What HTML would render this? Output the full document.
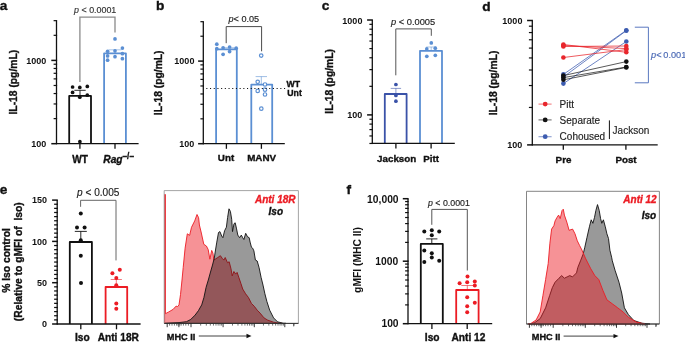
<!DOCTYPE html>
<html><head><meta charset="utf-8"><style>
html,body{margin:0;padding:0;background:#fff;width:685px;height:342px;overflow:hidden;}
svg{display:block;will-change:transform;font-family:"Liberation Sans",sans-serif;}
</style></head><body>
<svg width="685" height="342" viewBox="0 0 685 342" font-family="Liberation Sans, sans-serif">
<rect width="685" height="342" fill="white"/>
<text x="-0.30" y="10.00" font-size="13.7" font-weight="bold" text-anchor="start" fill="#111" stroke="#111" stroke-width="0.35" >a</text>
<text x="156.00" y="9.90" font-size="13.7" font-weight="bold" text-anchor="start" fill="#111" stroke="#111" stroke-width="0.35" >b</text>
<text x="321.70" y="10.00" font-size="13.7" font-weight="bold" text-anchor="start" fill="#111" stroke="#111" stroke-width="0.35" >c</text>
<text x="482.30" y="10.60" font-size="13.7" font-weight="bold" text-anchor="start" fill="#111" stroke="#111" stroke-width="0.35" >d</text>
<text x="-0.20" y="193.70" font-size="13.7" font-weight="bold" text-anchor="start" fill="#111" stroke="#111" stroke-width="0.35" >e</text>
<text x="346.60" y="193.60" font-size="13.7" font-weight="bold" text-anchor="start" fill="#111" stroke="#111" stroke-width="0.35" >f</text>
<line x1="56.50" y1="20.66" x2="56.50" y2="143.70" stroke="#111" stroke-width="1.3" />
<line x1="51.30" y1="143.70" x2="57.10" y2="143.70" stroke="#111" stroke-width="1.5" />
<line x1="51.30" y1="60.40" x2="57.10" y2="60.40" stroke="#111" stroke-width="1.5" />
<line x1="53.60" y1="118.62" x2="57.10" y2="118.62" stroke="#111" stroke-width="1.2" />
<line x1="53.60" y1="103.96" x2="57.10" y2="103.96" stroke="#111" stroke-width="1.2" />
<line x1="53.60" y1="93.55" x2="57.10" y2="93.55" stroke="#111" stroke-width="1.2" />
<line x1="53.60" y1="85.48" x2="57.10" y2="85.48" stroke="#111" stroke-width="1.2" />
<line x1="53.60" y1="78.88" x2="57.10" y2="78.88" stroke="#111" stroke-width="1.2" />
<line x1="53.60" y1="73.30" x2="57.10" y2="73.30" stroke="#111" stroke-width="1.2" />
<line x1="53.60" y1="68.47" x2="57.10" y2="68.47" stroke="#111" stroke-width="1.2" />
<line x1="53.60" y1="64.21" x2="57.10" y2="64.21" stroke="#111" stroke-width="1.2" />
<line x1="53.60" y1="35.32" x2="57.10" y2="35.32" stroke="#111" stroke-width="1.2" />
<line x1="53.60" y1="20.66" x2="57.10" y2="20.66" stroke="#111" stroke-width="1.2" />
<line x1="79.90" y1="143.70" x2="79.90" y2="148.70" stroke="#111" stroke-width="1.3" />
<line x1="115.00" y1="143.70" x2="115.00" y2="148.70" stroke="#111" stroke-width="1.3" />
<text x="46.30" y="63.60" font-size="9" font-weight="bold" text-anchor="end" fill="#111" >1000</text>
<text x="46.30" y="146.90" font-size="9" font-weight="bold" text-anchor="end" fill="#111" >100</text>
<!--fix-->
<text x="17.20" y="82.20" font-size="10.3" font-weight="bold" text-anchor="middle" fill="#111" stroke="#111" stroke-width="0.35" transform="rotate(-90 17.20 82.20)" >IL-18 (pg/mL)</text>
<path d="M69.20,143.70 L69.20,95.90 L91.00,95.90 L91.00,143.70" fill="white" stroke="#111" stroke-width="1.8" stroke-linejoin="round"/>
<path d="M104.10,143.70 L104.10,53.30 L125.90,53.30 L125.90,143.70" fill="white" stroke="#5b8fd3" stroke-width="1.8" stroke-linejoin="round"/>
<line x1="80.00" y1="90.30" x2="80.00" y2="95.90" stroke="#111" stroke-width="0.9" />
<line x1="74.30" y1="90.30" x2="85.70" y2="90.30" stroke="#111" stroke-width="0.9" />
<line x1="115.00" y1="49.80" x2="115.00" y2="53.30" stroke="#5b8fd3" stroke-width="0.8" stroke-opacity="0.65"/>
<line x1="108.60" y1="49.80" x2="121.40" y2="49.80" stroke="#5b8fd3" stroke-width="0.8" stroke-opacity="0.65"/>
<circle cx="72.60" cy="87.00" r="1.85" fill="#111"/>
<circle cx="79.80" cy="87.40" r="1.85" fill="#111"/>
<circle cx="87.30" cy="86.40" r="1.85" fill="#111"/>
<circle cx="72.60" cy="92.40" r="1.85" fill="#111"/>
<circle cx="79.80" cy="97.20" r="1.85" fill="#111"/>
<circle cx="87.30" cy="95.20" r="1.85" fill="#111"/>
<circle cx="79.90" cy="141.70" r="1.85" fill="#111"/>
<circle cx="115.00" cy="38.90" r="1.85" fill="#5b8fd3"/>
<circle cx="122.40" cy="48.10" r="1.85" fill="#5b8fd3"/>
<circle cx="107.60" cy="51.30" r="1.85" fill="#5b8fd3"/>
<circle cx="115.00" cy="50.80" r="1.85" fill="#5b8fd3"/>
<circle cx="122.40" cy="53.70" r="1.85" fill="#5b8fd3"/>
<circle cx="107.60" cy="55.90" r="1.85" fill="#5b8fd3"/>
<circle cx="115.00" cy="56.70" r="1.85" fill="#5b8fd3"/>
<circle cx="107.60" cy="60.20" r="1.85" fill="#5b8fd3"/>
<circle cx="122.40" cy="58.70" r="1.85" fill="#5b8fd3"/>
<polyline points="79.90,82.00 79.90,17.10 115.00,17.10 115.00,32.40" stroke="#8a8a8a" stroke-width="1.3" fill="none" stroke-linejoin="miter" />
<text x="74.10" y="13.00" font-size="8.9" font-weight="normal" text-anchor="start" fill="#333" stroke="#333" stroke-width="0.15" ><tspan font-style="italic">p</tspan> &lt; 0.0001</text>
<text x="80.20" y="163.00" font-size="10.1" font-weight="bold" text-anchor="middle" fill="#111" stroke="#111" stroke-width="0.35" >WT</text>
<text x="103.30" y="163.10" font-size="10.2" font-weight="bold" text-anchor="start" fill="#111" stroke="#111" stroke-width="0.35" ><tspan font-style="italic">Rag</tspan><tspan font-size="8.2" dy="-4.4">–/–</tspan></text>
<line x1="203.30" y1="21.69" x2="203.30" y2="143.70" stroke="#111" stroke-width="1.3" />
<line x1="198.10" y1="143.70" x2="203.90" y2="143.70" stroke="#111" stroke-width="1.5" />
<line x1="198.10" y1="61.10" x2="203.90" y2="61.10" stroke="#111" stroke-width="1.5" />
<line x1="200.40" y1="118.83" x2="203.90" y2="118.83" stroke="#111" stroke-width="1.2" />
<line x1="200.40" y1="104.29" x2="203.90" y2="104.29" stroke="#111" stroke-width="1.2" />
<line x1="200.40" y1="93.97" x2="203.90" y2="93.97" stroke="#111" stroke-width="1.2" />
<line x1="200.40" y1="85.97" x2="203.90" y2="85.97" stroke="#111" stroke-width="1.2" />
<line x1="200.40" y1="79.42" x2="203.90" y2="79.42" stroke="#111" stroke-width="1.2" />
<line x1="200.40" y1="73.89" x2="203.90" y2="73.89" stroke="#111" stroke-width="1.2" />
<line x1="200.40" y1="69.10" x2="203.90" y2="69.10" stroke="#111" stroke-width="1.2" />
<line x1="200.40" y1="64.88" x2="203.90" y2="64.88" stroke="#111" stroke-width="1.2" />
<line x1="200.40" y1="36.23" x2="203.90" y2="36.23" stroke="#111" stroke-width="1.2" />
<line x1="200.40" y1="21.69" x2="203.90" y2="21.69" stroke="#111" stroke-width="1.2" />
<line x1="226.40" y1="143.70" x2="226.40" y2="148.80" stroke="#111" stroke-width="1.3" />
<line x1="261.40" y1="143.70" x2="261.40" y2="148.80" stroke="#111" stroke-width="1.3" />
<text x="194.40" y="64.40" font-size="9" font-weight="bold" text-anchor="end" fill="#111" >1000</text>
<text x="194.40" y="147.20" font-size="9" font-weight="bold" text-anchor="end" fill="#111" >100</text>
<text x="162.20" y="82.80" font-size="10.3" font-weight="bold" text-anchor="middle" fill="#111" stroke="#111" stroke-width="0.35" transform="rotate(-90 162.20 82.80)" >IL-18 (pg/mL)</text>
<path d="M216.10,143.70 L216.10,49.30 L236.80,49.30 L236.80,143.70" fill="white" stroke="#5b8fd3" stroke-width="1.8" stroke-linejoin="round"/>
<path d="M251.30,143.70 L251.30,84.60 L272.20,84.60 L272.20,143.70" fill="white" stroke="#5b8fd3" stroke-width="1.8" stroke-linejoin="round"/>
<line x1="222.50" y1="47.80" x2="222.50" y2="49.30" stroke="#5b8fd3" stroke-width="0.6" stroke-opacity="0.65"/>
<line x1="222.40" y1="47.80" x2="222.60" y2="47.80" stroke="#5b8fd3" stroke-width="0.6" stroke-opacity="0.65"/>
<line x1="222.50" y1="47.80" x2="236.50" y2="47.80" stroke="#5b8fd3" stroke-width="0.6" />
<line x1="261.30" y1="76.60" x2="261.30" y2="84.60" stroke="#5b8fd3" stroke-width="0.9" stroke-opacity="0.65"/>
<line x1="255.60" y1="76.60" x2="267.00" y2="76.60" stroke="#5b8fd3" stroke-width="0.9" stroke-opacity="0.65"/>
<circle cx="216.80" cy="44.20" r="1.85" fill="#5b8fd3"/>
<circle cx="223.10" cy="47.80" r="1.85" fill="#5b8fd3"/>
<circle cx="229.60" cy="47.00" r="1.85" fill="#5b8fd3"/>
<circle cx="229.60" cy="51.60" r="1.85" fill="#5b8fd3"/>
<circle cx="223.10" cy="54.30" r="1.85" fill="#5b8fd3"/>
<circle cx="236.20" cy="48.20" r="1.85" fill="#5b8fd3"/>
<circle cx="216.80" cy="48.70" r="1.85" fill="#5b8fd3"/>
<circle cx="261.20" cy="55.60" r="1.75" fill="white" stroke="#5b8fd3" stroke-width="1.2"/>
<circle cx="257.70" cy="81.80" r="1.75" fill="white" stroke="#5b8fd3" stroke-width="1.2"/>
<circle cx="265.00" cy="84.50" r="1.75" fill="white" stroke="#5b8fd3" stroke-width="1.2"/>
<circle cx="257.70" cy="90.90" r="1.75" fill="white" stroke="#5b8fd3" stroke-width="1.2"/>
<circle cx="265.00" cy="89.70" r="1.75" fill="white" stroke="#5b8fd3" stroke-width="1.2"/>
<circle cx="265.00" cy="94.50" r="1.75" fill="white" stroke="#5b8fd3" stroke-width="1.2"/>
<circle cx="261.30" cy="108.70" r="1.75" fill="white" stroke="#5b8fd3" stroke-width="1.2"/>
<line x1="206.30" y1="88.50" x2="286.00" y2="88.50" stroke="#111" stroke-width="1.0" stroke-dasharray="1.1,2.6"/>
<polyline points="226.20,43.20 226.20,26.60 261.60,26.60 261.60,51.30" stroke="#4a4a4a" stroke-width="1.0" fill="none" stroke-linejoin="miter" />
<text x="228.50" y="21.70" font-size="9.1" font-weight="normal" text-anchor="start" fill="#222" stroke="#222" stroke-width="0.15" ><tspan font-style="italic">p</tspan>&lt; 0.05</text>
<text x="286.50" y="86.60" font-size="8.7" font-weight="bold" text-anchor="start" fill="#111" stroke="#111" stroke-width="0.35" >WT</text>
<text x="287.30" y="96.10" font-size="8.7" font-weight="bold" text-anchor="start" fill="#111" stroke="#111" stroke-width="0.35" >Unt</text>
<text x="226.00" y="161.30" font-size="9.8" font-weight="bold" text-anchor="middle" fill="#111" stroke="#111" stroke-width="0.35" >Unt</text>
<text x="261.60" y="161.30" font-size="9.8" font-weight="bold" text-anchor="middle" fill="#111" stroke="#111" stroke-width="0.35" >MANV</text>
<line x1="372.30" y1="20.00" x2="372.30" y2="143.47" stroke="#111" stroke-width="1.3" />
<line x1="367.10" y1="114.90" x2="372.90" y2="114.90" stroke="#111" stroke-width="1.5" />
<line x1="367.10" y1="20.00" x2="372.90" y2="20.00" stroke="#111" stroke-width="1.5" />
<line x1="369.40" y1="143.47" x2="372.90" y2="143.47" stroke="#111" stroke-width="1.2" />
<line x1="369.40" y1="135.95" x2="372.90" y2="135.95" stroke="#111" stroke-width="1.2" />
<line x1="369.40" y1="129.60" x2="372.90" y2="129.60" stroke="#111" stroke-width="1.2" />
<line x1="369.40" y1="124.10" x2="372.90" y2="124.10" stroke="#111" stroke-width="1.2" />
<line x1="369.40" y1="119.24" x2="372.90" y2="119.24" stroke="#111" stroke-width="1.2" />
<line x1="369.40" y1="86.33" x2="372.90" y2="86.33" stroke="#111" stroke-width="1.2" />
<line x1="369.40" y1="69.62" x2="372.90" y2="69.62" stroke="#111" stroke-width="1.2" />
<line x1="369.40" y1="57.76" x2="372.90" y2="57.76" stroke="#111" stroke-width="1.2" />
<line x1="369.40" y1="48.57" x2="372.90" y2="48.57" stroke="#111" stroke-width="1.2" />
<line x1="369.40" y1="41.05" x2="372.90" y2="41.05" stroke="#111" stroke-width="1.2" />
<line x1="369.40" y1="34.70" x2="372.90" y2="34.70" stroke="#111" stroke-width="1.2" />
<line x1="369.40" y1="29.20" x2="372.90" y2="29.20" stroke="#111" stroke-width="1.2" />
<line x1="369.40" y1="24.34" x2="372.90" y2="24.34" stroke="#111" stroke-width="1.2" />
<line x1="395.90" y1="143.30" x2="395.90" y2="148.50" stroke="#111" stroke-width="1.3" />
<line x1="431.10" y1="143.30" x2="431.10" y2="148.50" stroke="#111" stroke-width="1.3" />
<text x="362.40" y="23.50" font-size="9" font-weight="bold" text-anchor="end" fill="#111" >1000</text>
<text x="362.40" y="118.10" font-size="9" font-weight="bold" text-anchor="end" fill="#111" >100</text>
<text x="332.60" y="81.40" font-size="10.3" font-weight="bold" text-anchor="middle" fill="#111" stroke="#111" stroke-width="0.35" transform="rotate(-90 332.60 81.40)" >IL-18 (pg/mL)</text>
<path d="M384.80,143.30 L384.80,94.00 L406.60,94.00 L406.60,143.30" fill="white" stroke="#3a52a8" stroke-width="1.8" stroke-linejoin="round"/>
<path d="M420.00,143.30 L420.00,50.80 L442.00,50.80 L442.00,143.30" fill="white" stroke="#5b8fd3" stroke-width="1.8" stroke-linejoin="round"/>
<line x1="395.90" y1="88.40" x2="395.90" y2="94.00" stroke="#3a52a8" stroke-width="0.9" stroke-opacity="0.65"/>
<line x1="390.70" y1="88.40" x2="401.10" y2="88.40" stroke="#3a52a8" stroke-width="0.9" stroke-opacity="0.65"/>
<line x1="431.20" y1="47.00" x2="431.20" y2="50.80" stroke="#5b8fd3" stroke-width="0.8" stroke-opacity="0.65"/>
<line x1="426.20" y1="47.00" x2="436.20" y2="47.00" stroke="#5b8fd3" stroke-width="0.8" stroke-opacity="0.65"/>
<circle cx="395.90" cy="84.50" r="1.85" fill="#3a52a8"/>
<circle cx="395.90" cy="95.40" r="1.85" fill="#3a52a8"/>
<circle cx="395.90" cy="101.20" r="1.85" fill="#3a52a8"/>
<circle cx="431.30" cy="42.90" r="1.85" fill="#5b8fd3"/>
<circle cx="426.80" cy="48.90" r="1.85" fill="#5b8fd3"/>
<circle cx="435.30" cy="48.20" r="1.85" fill="#5b8fd3"/>
<circle cx="426.80" cy="56.30" r="1.85" fill="#5b8fd3"/>
<circle cx="435.30" cy="55.30" r="1.85" fill="#5b8fd3"/>
<polyline points="395.80,75.30 395.80,28.90 431.30,28.90 431.30,35.80" stroke="#555" stroke-width="1.0" fill="none" stroke-linejoin="miter" />
<text x="391.00" y="24.60" font-size="9.3" font-weight="normal" text-anchor="start" fill="#222" stroke="#222" stroke-width="0.15" ><tspan font-style="italic">p</tspan> &lt; 0.0005</text>
<text x="396.70" y="162.00" font-size="9.8" font-weight="bold" text-anchor="middle" fill="#111" stroke="#111" stroke-width="0.35" >Jackson</text>
<text x="431.10" y="162.00" font-size="9.8" font-weight="bold" text-anchor="middle" fill="#111" stroke="#111" stroke-width="0.35" >Pitt</text>
<line x1="532.30" y1="20.50" x2="532.30" y2="144.90" stroke="#111" stroke-width="1.3" />
<line x1="527.10" y1="144.90" x2="532.90" y2="144.90" stroke="#111" stroke-width="1.5" />
<line x1="527.10" y1="20.50" x2="532.90" y2="20.50" stroke="#111" stroke-width="1.5" />
<line x1="528.90" y1="107.45" x2="532.90" y2="107.45" stroke="#111" stroke-width="1.2" />
<line x1="528.90" y1="85.55" x2="532.90" y2="85.55" stroke="#111" stroke-width="1.2" />
<line x1="528.90" y1="70.00" x2="532.90" y2="70.00" stroke="#111" stroke-width="1.2" />
<line x1="528.90" y1="57.95" x2="532.90" y2="57.95" stroke="#111" stroke-width="1.2" />
<line x1="528.90" y1="48.10" x2="532.90" y2="48.10" stroke="#111" stroke-width="1.2" />
<line x1="528.90" y1="39.77" x2="532.90" y2="39.77" stroke="#111" stroke-width="1.2" />
<line x1="528.90" y1="32.56" x2="532.90" y2="32.56" stroke="#111" stroke-width="1.2" />
<line x1="528.90" y1="26.19" x2="532.90" y2="26.19" stroke="#111" stroke-width="1.2" />
<line x1="563.30" y1="144.90" x2="563.30" y2="149.80" stroke="#111" stroke-width="1.3" />
<line x1="625.90" y1="144.90" x2="625.90" y2="149.80" stroke="#111" stroke-width="1.3" />
<text x="522.40" y="24.40" font-size="9" font-weight="bold" text-anchor="end" fill="#111" >1000</text>
<text x="522.40" y="147.80" font-size="9" font-weight="bold" text-anchor="end" fill="#111" >100</text>
<text x="496.50" y="83.00" font-size="10.3" font-weight="bold" text-anchor="middle" fill="#111" stroke="#111" stroke-width="0.35" transform="rotate(-90 496.50 83.00)" >IL-18 (pg/mL)</text>
<line x1="563.40" y1="74.40" x2="626.30" y2="30.30" stroke="#3d5cb0" stroke-width="0.75" />
<line x1="563.40" y1="77.00" x2="626.30" y2="30.70" stroke="#3d5cb0" stroke-width="0.75" />
<line x1="563.40" y1="83.60" x2="626.30" y2="41.50" stroke="#3d5cb0" stroke-width="0.75" />
<line x1="563.40" y1="75.60" x2="626.30" y2="61.60" stroke="#111" stroke-width="0.7" />
<line x1="563.40" y1="77.60" x2="626.30" y2="67.00" stroke="#111" stroke-width="0.7" />
<line x1="563.40" y1="79.80" x2="626.30" y2="67.40" stroke="#111" stroke-width="0.7" />
<line x1="563.40" y1="44.50" x2="626.30" y2="52.30" stroke="#e8262c" stroke-width="0.75" />
<line x1="563.40" y1="46.50" x2="626.30" y2="46.00" stroke="#e8262c" stroke-width="0.75" />
<line x1="563.40" y1="45.50" x2="626.30" y2="48.60" stroke="#e8262c" stroke-width="0.75" />
<line x1="563.40" y1="57.50" x2="626.30" y2="49.60" stroke="#e8262c" stroke-width="0.75" />
<circle cx="563.40" cy="74.40" r="2.30" fill="#3d5cb0"/>
<circle cx="626.30" cy="30.30" r="2.30" fill="#3d5cb0"/>
<circle cx="563.40" cy="77.00" r="2.30" fill="#3d5cb0"/>
<circle cx="626.30" cy="30.70" r="2.30" fill="#3d5cb0"/>
<circle cx="563.40" cy="83.60" r="2.30" fill="#3d5cb0"/>
<circle cx="626.30" cy="41.50" r="2.30" fill="#3d5cb0"/>
<circle cx="563.40" cy="75.60" r="2.30" fill="#111"/>
<circle cx="626.30" cy="61.60" r="2.30" fill="#111"/>
<circle cx="563.40" cy="77.60" r="2.30" fill="#111"/>
<circle cx="626.30" cy="67.00" r="2.30" fill="#111"/>
<circle cx="563.40" cy="79.80" r="2.30" fill="#111"/>
<circle cx="626.30" cy="67.40" r="2.30" fill="#111"/>
<circle cx="563.40" cy="44.50" r="2.30" fill="#e8262c"/>
<circle cx="626.30" cy="52.30" r="2.30" fill="#e8262c"/>
<circle cx="563.40" cy="46.50" r="2.30" fill="#e8262c"/>
<circle cx="626.30" cy="46.00" r="2.30" fill="#e8262c"/>
<circle cx="563.40" cy="45.50" r="2.30" fill="#e8262c"/>
<circle cx="626.30" cy="48.60" r="2.30" fill="#e8262c"/>
<circle cx="563.40" cy="57.50" r="2.30" fill="#e8262c"/>
<circle cx="626.30" cy="49.60" r="2.30" fill="#e8262c"/>
<polyline points="634.80,27.20 648.40,27.20 648.40,82.80 634.80,82.80" stroke="#5a78c0" stroke-width="1.0" fill="none" stroke-linejoin="miter" />
<text x="651.00" y="57.70" font-size="9.2" font-weight="normal" text-anchor="start" fill="#4a69b5" stroke="#4a69b5" stroke-width="0.15" ><tspan font-style="italic">p</tspan>&lt;&#8201;0.001</text>
<line x1="538.50" y1="104.10" x2="551.60" y2="104.10" stroke="#e8262c" stroke-width="1.1" stroke-opacity="0.6"/>
<circle cx="545.20" cy="104.10" r="2.40" fill="#e8262c"/>
<text x="559.60" y="107.70" font-size="10" font-weight="normal" text-anchor="start" fill="#222" stroke="#222" stroke-width="0.15" >Pitt</text>
<line x1="538.50" y1="119.90" x2="551.60" y2="119.90" stroke="#111" stroke-width="1.1" stroke-opacity="0.6"/>
<circle cx="545.20" cy="119.90" r="2.40" fill="#111"/>
<text x="559.60" y="123.50" font-size="10" font-weight="normal" text-anchor="start" fill="#222" stroke="#222" stroke-width="0.15" >Separate</text>
<line x1="538.50" y1="136.70" x2="551.60" y2="136.70" stroke="#3d5cb0" stroke-width="1.1" stroke-opacity="0.6"/>
<circle cx="545.20" cy="136.70" r="2.40" fill="#3d5cb0"/>
<text x="559.60" y="140.30" font-size="10" font-weight="normal" text-anchor="start" fill="#222" stroke="#222" stroke-width="0.15" >Cohoused</text>
<line x1="609.40" y1="120.40" x2="609.40" y2="139.10" stroke="#111" stroke-width="1.0" />
<text x="612.60" y="133.50" font-size="10" font-weight="normal" text-anchor="start" fill="#222" stroke="#222" stroke-width="0.15" >Jackson</text>
<text x="563.50" y="162.80" font-size="9.8" font-weight="bold" text-anchor="middle" fill="#111" stroke="#111" stroke-width="0.35" >Pre</text>
<text x="626.00" y="162.80" font-size="9.8" font-weight="bold" text-anchor="middle" fill="#111" stroke="#111" stroke-width="0.35" >Post</text>
<line x1="57.20" y1="200.10" x2="57.20" y2="324.00" stroke="#111" stroke-width="1.3" />
<line x1="52.10" y1="324.00" x2="57.80" y2="324.00" stroke="#111" stroke-width="1.5" />
<line x1="54.10" y1="319.87" x2="57.80" y2="319.87" stroke="#111" stroke-width="1.25" />
<line x1="54.10" y1="315.74" x2="57.80" y2="315.74" stroke="#111" stroke-width="1.25" />
<line x1="54.10" y1="311.61" x2="57.80" y2="311.61" stroke="#111" stroke-width="1.25" />
<line x1="54.10" y1="307.48" x2="57.80" y2="307.48" stroke="#111" stroke-width="1.25" />
<line x1="54.10" y1="303.35" x2="57.80" y2="303.35" stroke="#111" stroke-width="1.25" />
<line x1="54.10" y1="299.22" x2="57.80" y2="299.22" stroke="#111" stroke-width="1.25" />
<line x1="54.10" y1="295.09" x2="57.80" y2="295.09" stroke="#111" stroke-width="1.25" />
<line x1="54.10" y1="290.96" x2="57.80" y2="290.96" stroke="#111" stroke-width="1.25" />
<line x1="54.10" y1="286.83" x2="57.80" y2="286.83" stroke="#111" stroke-width="1.25" />
<line x1="52.10" y1="282.70" x2="57.80" y2="282.70" stroke="#111" stroke-width="1.5" />
<line x1="54.10" y1="278.57" x2="57.80" y2="278.57" stroke="#111" stroke-width="1.25" />
<line x1="54.10" y1="274.44" x2="57.80" y2="274.44" stroke="#111" stroke-width="1.25" />
<line x1="54.10" y1="270.31" x2="57.80" y2="270.31" stroke="#111" stroke-width="1.25" />
<line x1="54.10" y1="266.18" x2="57.80" y2="266.18" stroke="#111" stroke-width="1.25" />
<line x1="54.10" y1="262.05" x2="57.80" y2="262.05" stroke="#111" stroke-width="1.25" />
<line x1="54.10" y1="257.92" x2="57.80" y2="257.92" stroke="#111" stroke-width="1.25" />
<line x1="54.10" y1="253.79" x2="57.80" y2="253.79" stroke="#111" stroke-width="1.25" />
<line x1="54.10" y1="249.66" x2="57.80" y2="249.66" stroke="#111" stroke-width="1.25" />
<line x1="54.10" y1="245.53" x2="57.80" y2="245.53" stroke="#111" stroke-width="1.25" />
<line x1="52.10" y1="241.40" x2="57.80" y2="241.40" stroke="#111" stroke-width="1.5" />
<line x1="54.10" y1="237.27" x2="57.80" y2="237.27" stroke="#111" stroke-width="1.25" />
<line x1="54.10" y1="233.14" x2="57.80" y2="233.14" stroke="#111" stroke-width="1.25" />
<line x1="54.10" y1="229.01" x2="57.80" y2="229.01" stroke="#111" stroke-width="1.25" />
<line x1="54.10" y1="224.88" x2="57.80" y2="224.88" stroke="#111" stroke-width="1.25" />
<line x1="54.10" y1="220.75" x2="57.80" y2="220.75" stroke="#111" stroke-width="1.25" />
<line x1="54.10" y1="216.62" x2="57.80" y2="216.62" stroke="#111" stroke-width="1.25" />
<line x1="54.10" y1="212.49" x2="57.80" y2="212.49" stroke="#111" stroke-width="1.25" />
<line x1="54.10" y1="208.36" x2="57.80" y2="208.36" stroke="#111" stroke-width="1.25" />
<line x1="54.10" y1="204.23" x2="57.80" y2="204.23" stroke="#111" stroke-width="1.25" />
<line x1="52.10" y1="200.10" x2="57.80" y2="200.10" stroke="#111" stroke-width="1.5" />
<line x1="80.80" y1="324.00" x2="80.80" y2="329.30" stroke="#111" stroke-width="1.3" />
<line x1="116.50" y1="324.00" x2="116.50" y2="329.30" stroke="#111" stroke-width="1.3" />
<text x="47.00" y="203.40" font-size="9" font-weight="bold" text-anchor="end" fill="#111" >150</text>
<text x="47.00" y="244.70" font-size="9" font-weight="bold" text-anchor="end" fill="#111" >100</text>
<text x="47.00" y="286.00" font-size="9" font-weight="bold" text-anchor="end" fill="#111" >50</text>
<text x="47.00" y="327.30" font-size="9" font-weight="bold" text-anchor="end" fill="#111" >0</text>
<text x="10.20" y="260.50" font-size="10.3" font-weight="bold" text-anchor="middle" fill="#111" stroke="#111" stroke-width="0.35" transform="rotate(-90 10.20 260.50)" >% Iso control</text>
<text x="21.90" y="261.70" font-size="10.3" font-weight="bold" text-anchor="middle" fill="#111" stroke="#111" stroke-width="0.35" transform="rotate(-90 21.90 261.70)" xml:space="preserve">(Relative to gMFI of  Iso)</text>
<path d="M69.80,324.00 L69.80,242.00 L91.90,242.00 L91.90,324.00" fill="white" stroke="#111" stroke-width="1.8" stroke-linejoin="round"/>
<path d="M105.60,324.00 L105.60,287.00 L127.20,287.00 L127.20,324.00" fill="white" stroke="#ec1c24" stroke-width="1.8" stroke-linejoin="round"/>
<line x1="80.80" y1="231.40" x2="80.80" y2="242.00" stroke="#111" stroke-width="0.9" />
<line x1="74.80" y1="231.40" x2="86.80" y2="231.40" stroke="#111" stroke-width="0.9" />
<line x1="116.30" y1="279.50" x2="116.30" y2="287.00" stroke="#ec1c24" stroke-width="0.9" stroke-opacity="0.65"/>
<line x1="110.70" y1="279.50" x2="121.90" y2="279.50" stroke="#ec1c24" stroke-width="0.9" stroke-opacity="0.65"/>
<circle cx="80.80" cy="213.40" r="2.00" fill="#111"/>
<circle cx="77.00" cy="227.50" r="2.00" fill="#111"/>
<circle cx="84.60" cy="227.50" r="2.00" fill="#111"/>
<circle cx="80.80" cy="240.30" r="2.00" fill="#111"/>
<circle cx="80.80" cy="255.80" r="2.00" fill="#111"/>
<circle cx="81.00" cy="283.00" r="2.00" fill="#111"/>
<circle cx="112.40" cy="273.20" r="2.00" fill="#ec1c24"/>
<circle cx="119.80" cy="269.80" r="2.00" fill="#ec1c24"/>
<circle cx="116.30" cy="278.00" r="2.00" fill="#ec1c24"/>
<circle cx="116.30" cy="285.30" r="2.00" fill="#ec1c24"/>
<circle cx="116.30" cy="303.40" r="2.00" fill="#ec1c24"/>
<circle cx="116.30" cy="308.80" r="2.00" fill="#ec1c24"/>
<polyline points="80.60,206.80 80.60,200.30 116.00,200.30 116.00,260.40" stroke="#666" stroke-width="1.0" fill="none" stroke-linejoin="miter" />
<text x="77.00" y="196.20" font-size="10.1" font-weight="normal" text-anchor="start" fill="#222" stroke="#222" stroke-width="0.15" ><tspan font-style="italic">p</tspan> &lt; 0.005</text>
<text x="82.40" y="341.30" font-size="10.2" font-weight="bold" text-anchor="middle" fill="#111" stroke="#111" stroke-width="0.35" >Iso</text>
<text x="118.30" y="341.30" font-size="10.2" font-weight="bold" text-anchor="middle" fill="#111" stroke="#111" stroke-width="0.35" >Anti 18R</text>
<line x1="408.00" y1="198.70" x2="408.00" y2="323.70" stroke="#111" stroke-width="1.3" />
<line x1="402.80" y1="323.70" x2="408.60" y2="323.70" stroke="#111" stroke-width="1.5" />
<line x1="402.80" y1="261.20" x2="408.60" y2="261.20" stroke="#111" stroke-width="1.5" />
<line x1="402.80" y1="198.70" x2="408.60" y2="198.70" stroke="#111" stroke-width="1.5" />
<line x1="405.10" y1="304.89" x2="408.60" y2="304.89" stroke="#111" stroke-width="1.2" />
<line x1="405.10" y1="293.88" x2="408.60" y2="293.88" stroke="#111" stroke-width="1.2" />
<line x1="405.10" y1="286.07" x2="408.60" y2="286.07" stroke="#111" stroke-width="1.2" />
<line x1="405.10" y1="280.01" x2="408.60" y2="280.01" stroke="#111" stroke-width="1.2" />
<line x1="405.10" y1="275.07" x2="408.60" y2="275.07" stroke="#111" stroke-width="1.2" />
<line x1="405.10" y1="270.88" x2="408.60" y2="270.88" stroke="#111" stroke-width="1.2" />
<line x1="405.10" y1="267.26" x2="408.60" y2="267.26" stroke="#111" stroke-width="1.2" />
<line x1="405.10" y1="264.06" x2="408.60" y2="264.06" stroke="#111" stroke-width="1.2" />
<line x1="405.10" y1="242.39" x2="408.60" y2="242.39" stroke="#111" stroke-width="1.2" />
<line x1="405.10" y1="231.38" x2="408.60" y2="231.38" stroke="#111" stroke-width="1.2" />
<line x1="405.10" y1="223.57" x2="408.60" y2="223.57" stroke="#111" stroke-width="1.2" />
<line x1="405.10" y1="217.51" x2="408.60" y2="217.51" stroke="#111" stroke-width="1.2" />
<line x1="405.10" y1="212.57" x2="408.60" y2="212.57" stroke="#111" stroke-width="1.2" />
<line x1="405.10" y1="208.38" x2="408.60" y2="208.38" stroke="#111" stroke-width="1.2" />
<line x1="405.10" y1="204.76" x2="408.60" y2="204.76" stroke="#111" stroke-width="1.2" />
<line x1="405.10" y1="201.56" x2="408.60" y2="201.56" stroke="#111" stroke-width="1.2" />
<line x1="431.90" y1="323.70" x2="431.90" y2="329.00" stroke="#111" stroke-width="1.3" />
<line x1="467.20" y1="323.70" x2="467.20" y2="329.00" stroke="#111" stroke-width="1.3" />
<text x="398.60" y="202.70" font-size="10.3" font-weight="bold" text-anchor="end" fill="#111" >10,000</text>
<text x="398.20" y="264.60" font-size="10.3" font-weight="bold" text-anchor="end" fill="#111" >1000</text>
<text x="398.60" y="327.10" font-size="10.3" font-weight="bold" text-anchor="end" fill="#111" >100</text>
<text x="361.00" y="260.00" font-size="10.3" font-weight="bold" text-anchor="middle" fill="#111" transform="rotate(-90 361.00 260.00)" >gMFI (MHC II)</text>
<path d="M420.80,323.70 L420.80,243.90 L442.80,243.90 L442.80,323.70" fill="white" stroke="#111" stroke-width="1.8" stroke-linejoin="round"/>
<path d="M456.20,323.70 L456.20,290.00 L478.60,290.00 L478.60,323.70" fill="white" stroke="#ec1c24" stroke-width="1.8" stroke-linejoin="round"/>
<line x1="431.80" y1="238.90" x2="431.80" y2="243.90" stroke="#111" stroke-width="0.9" />
<line x1="426.20" y1="238.90" x2="437.40" y2="238.90" stroke="#111" stroke-width="0.9" />
<line x1="467.30" y1="285.50" x2="467.30" y2="290.00" stroke="#ec1c24" stroke-width="0.9" stroke-opacity="0.65"/>
<line x1="461.30" y1="285.50" x2="473.30" y2="285.50" stroke="#ec1c24" stroke-width="0.9" stroke-opacity="0.65"/>
<circle cx="424.30" cy="231.50" r="2.00" fill="#111"/>
<circle cx="431.80" cy="230.20" r="2.00" fill="#111"/>
<circle cx="439.20" cy="231.50" r="2.00" fill="#111"/>
<circle cx="431.80" cy="235.20" r="2.00" fill="#111"/>
<circle cx="424.30" cy="250.40" r="2.00" fill="#111"/>
<circle cx="431.80" cy="253.30" r="2.00" fill="#111"/>
<circle cx="431.80" cy="257.60" r="2.00" fill="#111"/>
<circle cx="424.30" cy="262.00" r="2.00" fill="#111"/>
<circle cx="439.20" cy="260.80" r="2.00" fill="#111"/>
<circle cx="467.50" cy="276.60" r="2.00" fill="#ec1c24"/>
<circle cx="459.60" cy="283.30" r="2.00" fill="#ec1c24"/>
<circle cx="467.20" cy="282.20" r="2.00" fill="#ec1c24"/>
<circle cx="474.80" cy="281.50" r="2.00" fill="#ec1c24"/>
<circle cx="474.80" cy="285.40" r="2.00" fill="#ec1c24"/>
<circle cx="467.20" cy="297.20" r="2.00" fill="#ec1c24"/>
<circle cx="474.80" cy="302.70" r="2.00" fill="#ec1c24"/>
<circle cx="467.20" cy="306.30" r="2.00" fill="#ec1c24"/>
<circle cx="467.20" cy="312.30" r="2.00" fill="#ec1c24"/>
<polyline points="431.80,224.80 431.80,209.40 467.30,209.40 467.30,270.50" stroke="#555" stroke-width="1.0" fill="none" stroke-linejoin="miter" />
<text x="428.00" y="206.10" font-size="8.8" font-weight="normal" text-anchor="start" fill="#222" stroke="#222" stroke-width="0.15" ><tspan font-style="italic">p</tspan> &lt; 0.0001</text>
<text x="432.20" y="341.30" font-size="10.2" font-weight="bold" text-anchor="middle" fill="#111" stroke="#111" stroke-width="0.35" >Iso</text>
<text x="468.40" y="341.30" font-size="10.2" font-weight="bold" text-anchor="middle" fill="#111" stroke="#111" stroke-width="0.35" >Anti 12</text>
<line x1="55.90" y1="143.70" x2="138.60" y2="143.70" stroke="#111" stroke-width="1.3" />
<line x1="202.70" y1="143.70" x2="284.80" y2="143.70" stroke="#111" stroke-width="1.3" />
<line x1="371.70" y1="143.30" x2="454.80" y2="143.30" stroke="#111" stroke-width="1.3" />
<line x1="531.70" y1="144.90" x2="657.70" y2="144.90" stroke="#111" stroke-width="1.3" />
<line x1="56.60" y1="324.00" x2="140.60" y2="324.00" stroke="#111" stroke-width="1.3" />
<line x1="407.40" y1="323.70" x2="492.20" y2="323.70" stroke="#111" stroke-width="1.3" />
<path d="M164.60,323.40 L164.60,194.50 L165.40,194.50 L165.40,313.70 L168.80,311.90 L173.20,309.30 L176.10,306.10 L177.60,306.60 L179.00,304.90 L180.50,294.60 L182.00,280.00 L183.20,267.50 L185.10,248.20 L187.30,233.80 L189.60,235.40 L191.50,227.30 L194.70,220.90 L197.00,214.50 L198.60,217.70 L199.40,225.00 L201.10,232.00 L203.80,244.30 L206.40,246.00 L208.20,249.60 L209.90,259.20 L211.70,250.40 L212.90,253.10 L213.90,260.10 L215.20,259.20 L217.80,257.50 L220.40,255.70 L222.20,258.30 L223.90,260.10 L225.20,257.50 L227.50,262.70 L229.20,261.80 L231.00,268.90 L232.20,275.90 L233.90,271.50 L235.70,274.10 L237.10,272.40 L238.90,277.60 L241.00,283.80 L242.70,289.00 L245.60,293.80 L248.50,297.60 L251.40,303.40 L254.30,306.30 L257.20,310.20 L260.10,313.10 L264.00,317.90 L267.80,320.20 L273.60,322.20 L279.40,323.30 L282.00,323.40 Z" fill="rgba(236,28,36,0.48)" stroke="#ec1c24" stroke-width="0.9" stroke-linejoin="round"/>
<path d="M165.00,323.40 L172.00,322.90 L179.00,322.60 L186.40,321.70 L190.70,319.50 L195.10,315.10 L198.40,310.70 L201.70,304.90 L203.90,297.60 L206.10,287.30 L208.30,280.00 L210.50,272.00 L212.50,265.00 L214.30,258.00 L215.50,250.00 L216.80,242.10 L218.50,232.50 L219.90,231.60 L221.70,236.00 L222.90,237.70 L224.60,230.70 L226.40,227.20 L227.60,217.50 L229.00,208.80 L230.40,211.40 L231.70,219.30 L232.50,231.60 L234.00,223.70 L235.20,222.80 L236.40,228.10 L237.80,235.10 L239.60,237.70 L241.30,235.10 L242.70,237.70 L243.90,239.50 L245.70,233.30 L247.50,236.80 L249.20,237.70 L250.10,242.10 L251.50,247.40 L252.70,248.20 L253.90,250.90 L255.40,260.00 L257.20,261.00 L259.10,267.70 L261.10,277.40 L263.00,285.10 L264.90,293.80 L266.90,301.50 L269.70,310.20 L273.60,317.90 L277.50,321.80 L283.30,323.30 L286.00,323.40 Z" fill="rgba(0,0,0,0.40)" stroke="#111" stroke-width="0.9" stroke-linejoin="round"/>
<path d="M164.2,323.4 L164.2,190.6 L298.4,190.6 L298.4,323.4 Z" fill="none" stroke="#9a9a9a" stroke-width="0.9"/>
<line x1="164.2" y1="323.4" x2="298.4" y2="323.4" stroke="#222" stroke-width="0.9"/>
<text x="295.50" y="202.80" font-size="10" font-weight="bold" text-anchor="end" fill="#ec1c24" stroke="#ec1c24" stroke-width="0.35" font-style="italic" >Anti 18R</text>
<text x="275.80" y="214.90" font-size="10" font-weight="bold" text-anchor="middle" fill="#111" stroke="#111" stroke-width="0.35" font-style="italic" >Iso</text>
<text x="166.80" y="339.60" font-size="9.2" font-weight="bold" text-anchor="start" fill="#111" stroke="#111" stroke-width="0.35" >MHC II</text>
<line x1="198.80" y1="336.00" x2="248.50" y2="336.00" stroke="#111" stroke-width="0.8" />
<path d="M251.5,336 L246.5,333.8 L246.5,338.2 Z" fill="#111"/>
<line x1="169.60" y1="323.40" x2="169.60" y2="325.60" stroke="#333" stroke-width="0.7"/>
<line x1="172.00" y1="323.40" x2="172.00" y2="325.60" stroke="#333" stroke-width="0.7"/>
<line x1="174.40" y1="323.40" x2="174.40" y2="325.60" stroke="#333" stroke-width="0.7"/>
<line x1="176.60" y1="323.40" x2="176.60" y2="325.60" stroke="#333" stroke-width="0.7"/>
<line x1="178.00" y1="323.40" x2="178.00" y2="325.60" stroke="#333" stroke-width="0.7"/>
<line x1="179.80" y1="323.40" x2="179.80" y2="325.60" stroke="#333" stroke-width="0.7"/>
<line x1="181.20" y1="323.40" x2="181.20" y2="325.60" stroke="#333" stroke-width="0.7"/>
<line x1="183.40" y1="323.40" x2="183.40" y2="325.60" stroke="#333" stroke-width="0.7"/>
<line x1="185.80" y1="323.40" x2="185.80" y2="325.60" stroke="#333" stroke-width="0.7"/>
<line x1="188.40" y1="323.40" x2="188.40" y2="325.60" stroke="#333" stroke-width="0.7"/>
<line x1="200.66" y1="323.40" x2="200.66" y2="325.60" stroke="#333" stroke-width="0.7"/>
<line x1="206.32" y1="323.40" x2="206.32" y2="325.60" stroke="#333" stroke-width="0.7"/>
<line x1="210.33" y1="323.40" x2="210.33" y2="325.60" stroke="#333" stroke-width="0.7"/>
<line x1="213.44" y1="323.40" x2="213.44" y2="325.60" stroke="#333" stroke-width="0.7"/>
<line x1="215.98" y1="323.40" x2="215.98" y2="325.60" stroke="#333" stroke-width="0.7"/>
<line x1="218.13" y1="323.40" x2="218.13" y2="325.60" stroke="#333" stroke-width="0.7"/>
<line x1="219.99" y1="323.40" x2="219.99" y2="325.60" stroke="#333" stroke-width="0.7"/>
<line x1="221.63" y1="323.40" x2="221.63" y2="325.60" stroke="#333" stroke-width="0.7"/>
<line x1="232.49" y1="323.40" x2="232.49" y2="325.60" stroke="#333" stroke-width="0.7"/>
<line x1="237.99" y1="323.40" x2="237.99" y2="325.60" stroke="#333" stroke-width="0.7"/>
<line x1="241.88" y1="323.40" x2="241.88" y2="325.60" stroke="#333" stroke-width="0.7"/>
<line x1="244.91" y1="323.40" x2="244.91" y2="325.60" stroke="#333" stroke-width="0.7"/>
<line x1="247.38" y1="323.40" x2="247.38" y2="325.60" stroke="#333" stroke-width="0.7"/>
<line x1="249.47" y1="323.40" x2="249.47" y2="325.60" stroke="#333" stroke-width="0.7"/>
<line x1="251.28" y1="323.40" x2="251.28" y2="325.60" stroke="#333" stroke-width="0.7"/>
<line x1="252.87" y1="323.40" x2="252.87" y2="325.60" stroke="#333" stroke-width="0.7"/>
<line x1="263.48" y1="323.40" x2="263.48" y2="325.60" stroke="#333" stroke-width="0.7"/>
<line x1="268.85" y1="323.40" x2="268.85" y2="325.60" stroke="#333" stroke-width="0.7"/>
<line x1="272.66" y1="323.40" x2="272.66" y2="325.60" stroke="#333" stroke-width="0.7"/>
<line x1="275.62" y1="323.40" x2="275.62" y2="325.60" stroke="#333" stroke-width="0.7"/>
<line x1="278.03" y1="323.40" x2="278.03" y2="325.60" stroke="#333" stroke-width="0.7"/>
<line x1="280.08" y1="323.40" x2="280.08" y2="325.60" stroke="#333" stroke-width="0.7"/>
<line x1="281.84" y1="323.40" x2="281.84" y2="325.60" stroke="#333" stroke-width="0.7"/>
<line x1="283.40" y1="323.40" x2="283.40" y2="325.60" stroke="#333" stroke-width="0.7"/>
<line x1="293.98" y1="323.40" x2="293.98" y2="325.60" stroke="#333" stroke-width="0.7"/>
<line x1="167.20" y1="323.40" x2="167.20" y2="327.20" stroke="#222" stroke-width="0.9"/>
<line x1="178.90" y1="323.40" x2="178.90" y2="327.20" stroke="#222" stroke-width="0.9"/>
<line x1="191.00" y1="323.40" x2="191.00" y2="327.20" stroke="#222" stroke-width="0.9"/>
<line x1="223.10" y1="323.40" x2="223.10" y2="327.20" stroke="#222" stroke-width="0.9"/>
<line x1="254.30" y1="323.40" x2="254.30" y2="327.20" stroke="#222" stroke-width="0.9"/>
<line x1="284.80" y1="323.40" x2="284.80" y2="327.20" stroke="#222" stroke-width="0.9"/>
<line x1="293.70" y1="323.40" x2="293.70" y2="326.40" stroke="#333" stroke-width="0.8"/>
<path d="M530.00,324.00 L534.80,322.60 L540.20,318.60 L545.60,307.80 L549.60,295.70 L552.30,287.70 L555.00,282.30 L559.00,278.20 L561.70,275.60 L564.40,278.20 L567.10,276.90 L569.80,275.60 L572.50,276.90 L576.50,272.90 L577.80,267.50 L580.50,260.80 L583.20,254.00 L584.70,247.80 L587.00,237.30 L589.40,226.80 L591.20,219.80 L592.90,223.30 L594.50,217.40 L595.90,210.40 L597.50,204.60 L599.20,210.40 L600.60,218.60 L601.80,223.30 L603.40,219.80 L605.30,226.80 L606.90,233.80 L608.50,238.50 L609.90,250.20 L611.60,257.20 L612.30,260.80 L615.00,270.20 L619.00,282.30 L621.70,293.00 L624.40,307.80 L628.40,314.60 L633.80,320.50 L641.90,323.20 L650.00,324.00 Z" fill="rgba(0,0,0,0.40)" stroke="#111" stroke-width="0.9" stroke-linejoin="round"/>
<path d="M528.00,324.00 L530.80,323.50 L536.10,320.00 L540.20,311.90 L542.90,295.70 L545.60,279.60 L548.20,263.50 L549.90,243.20 L551.60,229.10 L553.90,225.60 L555.10,220.90 L557.00,217.40 L558.60,215.10 L560.20,218.60 L562.10,210.40 L563.30,209.20 L564.40,215.10 L566.80,222.10 L569.10,230.30 L572.60,229.10 L575.00,233.80 L577.30,240.80 L579.60,245.50 L582.00,250.20 L585.40,258.10 L590.80,268.80 L594.80,275.60 L598.80,279.60 L602.90,290.40 L606.90,299.80 L612.30,303.80 L617.70,307.80 L623.00,311.90 L628.40,317.30 L636.50,322.10 L645.00,324.00 Z" fill="rgba(236,28,36,0.48)" stroke="#ec1c24" stroke-width="0.9" stroke-linejoin="round"/>
<path d="M526.5,324.0 L526.5,191.3 L659.4,191.3 L659.4,324.0 Z" fill="none" stroke="#777" stroke-width="0.9"/>
<line x1="526.5" y1="324.0" x2="659.4" y2="324.0" stroke="#222" stroke-width="0.9"/>
<text x="656.70" y="202.70" font-size="10" font-weight="bold" text-anchor="end" fill="#ec1c24" stroke="#ec1c24" stroke-width="0.35" font-style="italic" >Anti 12</text>
<text x="656.20" y="218.60" font-size="10" font-weight="bold" text-anchor="end" fill="#111" stroke="#111" stroke-width="0.35" font-style="italic" >Iso</text>
<text x="531.80" y="339.60" font-size="9.2" font-weight="bold" text-anchor="start" fill="#111" stroke="#111" stroke-width="0.35" >MHC II</text>
<line x1="563.60" y1="336.10" x2="615.50" y2="336.10" stroke="#111" stroke-width="0.8" />
<path d="M618.5,336.1 L613.5,333.9 L613.5,338.3 Z" fill="#111"/>
<line x1="531.80" y1="324.00" x2="531.80" y2="326.20" stroke="#333" stroke-width="0.7"/>
<line x1="534.20" y1="324.00" x2="534.20" y2="326.20" stroke="#333" stroke-width="0.7"/>
<line x1="536.60" y1="324.00" x2="536.60" y2="326.20" stroke="#333" stroke-width="0.7"/>
<line x1="538.80" y1="324.00" x2="538.80" y2="326.20" stroke="#333" stroke-width="0.7"/>
<line x1="540.20" y1="324.00" x2="540.20" y2="326.20" stroke="#333" stroke-width="0.7"/>
<line x1="542.00" y1="324.00" x2="542.00" y2="326.20" stroke="#333" stroke-width="0.7"/>
<line x1="543.40" y1="324.00" x2="543.40" y2="326.20" stroke="#333" stroke-width="0.7"/>
<line x1="545.60" y1="324.00" x2="545.60" y2="326.20" stroke="#333" stroke-width="0.7"/>
<line x1="548.00" y1="324.00" x2="548.00" y2="326.20" stroke="#333" stroke-width="0.7"/>
<line x1="550.60" y1="324.00" x2="550.60" y2="326.20" stroke="#333" stroke-width="0.7"/>
<line x1="562.86" y1="324.00" x2="562.86" y2="326.20" stroke="#333" stroke-width="0.7"/>
<line x1="568.52" y1="324.00" x2="568.52" y2="326.20" stroke="#333" stroke-width="0.7"/>
<line x1="572.53" y1="324.00" x2="572.53" y2="326.20" stroke="#333" stroke-width="0.7"/>
<line x1="575.64" y1="324.00" x2="575.64" y2="326.20" stroke="#333" stroke-width="0.7"/>
<line x1="578.18" y1="324.00" x2="578.18" y2="326.20" stroke="#333" stroke-width="0.7"/>
<line x1="580.33" y1="324.00" x2="580.33" y2="326.20" stroke="#333" stroke-width="0.7"/>
<line x1="582.19" y1="324.00" x2="582.19" y2="326.20" stroke="#333" stroke-width="0.7"/>
<line x1="583.83" y1="324.00" x2="583.83" y2="326.20" stroke="#333" stroke-width="0.7"/>
<line x1="594.69" y1="324.00" x2="594.69" y2="326.20" stroke="#333" stroke-width="0.7"/>
<line x1="600.19" y1="324.00" x2="600.19" y2="326.20" stroke="#333" stroke-width="0.7"/>
<line x1="604.08" y1="324.00" x2="604.08" y2="326.20" stroke="#333" stroke-width="0.7"/>
<line x1="607.11" y1="324.00" x2="607.11" y2="326.20" stroke="#333" stroke-width="0.7"/>
<line x1="609.58" y1="324.00" x2="609.58" y2="326.20" stroke="#333" stroke-width="0.7"/>
<line x1="611.67" y1="324.00" x2="611.67" y2="326.20" stroke="#333" stroke-width="0.7"/>
<line x1="613.48" y1="324.00" x2="613.48" y2="326.20" stroke="#333" stroke-width="0.7"/>
<line x1="615.07" y1="324.00" x2="615.07" y2="326.20" stroke="#333" stroke-width="0.7"/>
<line x1="625.68" y1="324.00" x2="625.68" y2="326.20" stroke="#333" stroke-width="0.7"/>
<line x1="631.05" y1="324.00" x2="631.05" y2="326.20" stroke="#333" stroke-width="0.7"/>
<line x1="634.86" y1="324.00" x2="634.86" y2="326.20" stroke="#333" stroke-width="0.7"/>
<line x1="637.82" y1="324.00" x2="637.82" y2="326.20" stroke="#333" stroke-width="0.7"/>
<line x1="640.23" y1="324.00" x2="640.23" y2="326.20" stroke="#333" stroke-width="0.7"/>
<line x1="642.28" y1="324.00" x2="642.28" y2="326.20" stroke="#333" stroke-width="0.7"/>
<line x1="644.04" y1="324.00" x2="644.04" y2="326.20" stroke="#333" stroke-width="0.7"/>
<line x1="645.60" y1="324.00" x2="645.60" y2="326.20" stroke="#333" stroke-width="0.7"/>
<line x1="656.18" y1="324.00" x2="656.18" y2="326.20" stroke="#333" stroke-width="0.7"/>
<line x1="529.40" y1="324.00" x2="529.40" y2="327.80" stroke="#222" stroke-width="0.9"/>
<line x1="541.10" y1="324.00" x2="541.10" y2="327.80" stroke="#222" stroke-width="0.9"/>
<line x1="553.20" y1="324.00" x2="553.20" y2="327.80" stroke="#222" stroke-width="0.9"/>
<line x1="585.30" y1="324.00" x2="585.30" y2="327.80" stroke="#222" stroke-width="0.9"/>
<line x1="616.50" y1="324.00" x2="616.50" y2="327.80" stroke="#222" stroke-width="0.9"/>
<line x1="647.00" y1="324.00" x2="647.00" y2="327.80" stroke="#222" stroke-width="0.9"/>
<line x1="655.90" y1="324.00" x2="655.90" y2="327.00" stroke="#333" stroke-width="0.8"/>
</svg>
</body></html>
